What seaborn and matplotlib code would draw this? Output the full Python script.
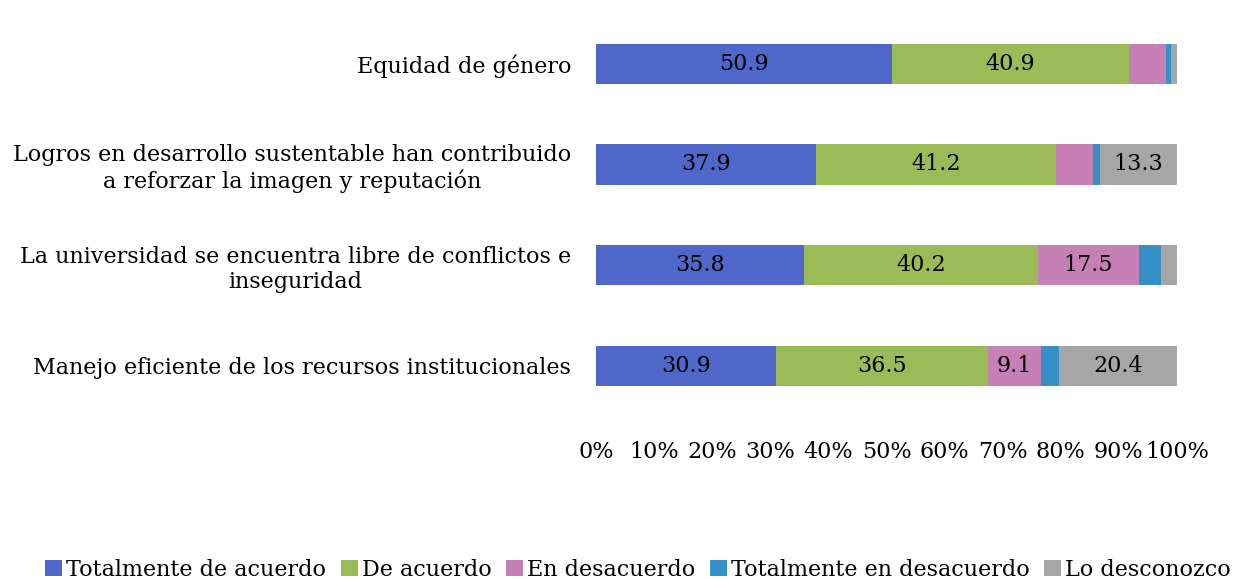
import matplotlib

matplotlib.use("Agg")
import matplotlib.pyplot as plt
import numpy as np
import pandas as pd
import seaborn as sns
from matplotlib.patches import Patch

items = [
    "Equidad de género",
    "Logros en desarrollo sustentable han contribuido\na reforzar la imagen y reputación",
    "La universidad se encuentra libre de conflictos e\ninseguridad",
    "Manejo eficiente de los recursos institucionales",
]
series = [
    "Totalmente de acuerdo",
    "De acuerdo",
    "En desacuerdo",
    "Totalmente en desacuerdo",
    "Lo desconozco",
]
totalmente_de_acuerdo = [50.9, 37.9, 35.8, 30.9]
de_acuerdo = [40.9, 41.2, 40.2, 36.5]
en_desacuerdo = [6.3, 6.4, 17.5, 9.1]
totalmente_en_desacuerdo = [0.9, 1.2, 3.7, 3.1]
lo_desconozco = [1.0, 13.3, 2.8, 20.4]
colors = ["#4F67C9", "#9BBB59", "#C680B5", "#3591C5", "#A6A6A6"]

values = np.array(
    [totalmente_de_acuerdo, de_acuerdo, en_desacuerdo, totalmente_en_desacuerdo, lo_desconozco]
)
cumulative = np.cumsum(values, axis=0)

sns.set_style("white")
plt.rcParams["font.family"] = ["DejaVu Serif"]
plt.rcParams["text.color"] = "black"
plt.rcParams["xtick.color"] = "black"
plt.rcParams["ytick.color"] = "black"

fig = plt.figure(figsize=(12.37, 5.79), dpi=100)
ax = fig.add_axes([0.482, 0.281, 0.4695, 0.696])

# draw cumulative totals from the last series back to the first
for index in range(len(series) - 1, -1, -1):
    frame = pd.DataFrame({"item": items, "total": cumulative[index]})
    sns.barplot(
        data=frame,
        x="total",
        y="item",
        color=colors[index],
        saturation=1,
        width=0.4,
        orient="h",
        linewidth=0,
        ax=ax,
    )

for index in range(len(series)):
    for row in range(len(items)):
        value = values[index, row]
        if value < 8:
            continue
        center = cumulative[index, row] - value / 2
        ax.text(center, row, f"{value:.1f}", ha="center", va="center", fontsize=16, color="black")

ax.set_xlim(0, 100)
ax.set_ylim(3.5, -0.5)
ax.set_xticks(np.arange(0, 101, 10))
ax.set_xticklabels([f"{tick}%" for tick in range(0, 101, 10)], fontsize=16)
ax.tick_params(axis="x", length=0, pad=18)
ax.tick_params(axis="y", length=0, pad=18)
for label in ax.get_yticklabels():
    label.set_fontsize(16)
    label.set_multialignment("center")
ax.set_xlabel("")
ax.set_ylabel("")
for spine in ax.spines.values():
    spine.set_visible(False)

handles = [Patch(facecolor=color, edgecolor="none") for color in colors]
fig.legend(
    handles,
    series,
    loc="lower center",
    bbox_to_anchor=(0.516, -0.038),
    ncol=5,
    frameon=False,
    fontsize=16,
    handlelength=0.75,
    handleheight=0.75,
    handletextpad=0.2,
    columnspacing=0.65,
)

fig.savefig("out.png", dpi=100)
